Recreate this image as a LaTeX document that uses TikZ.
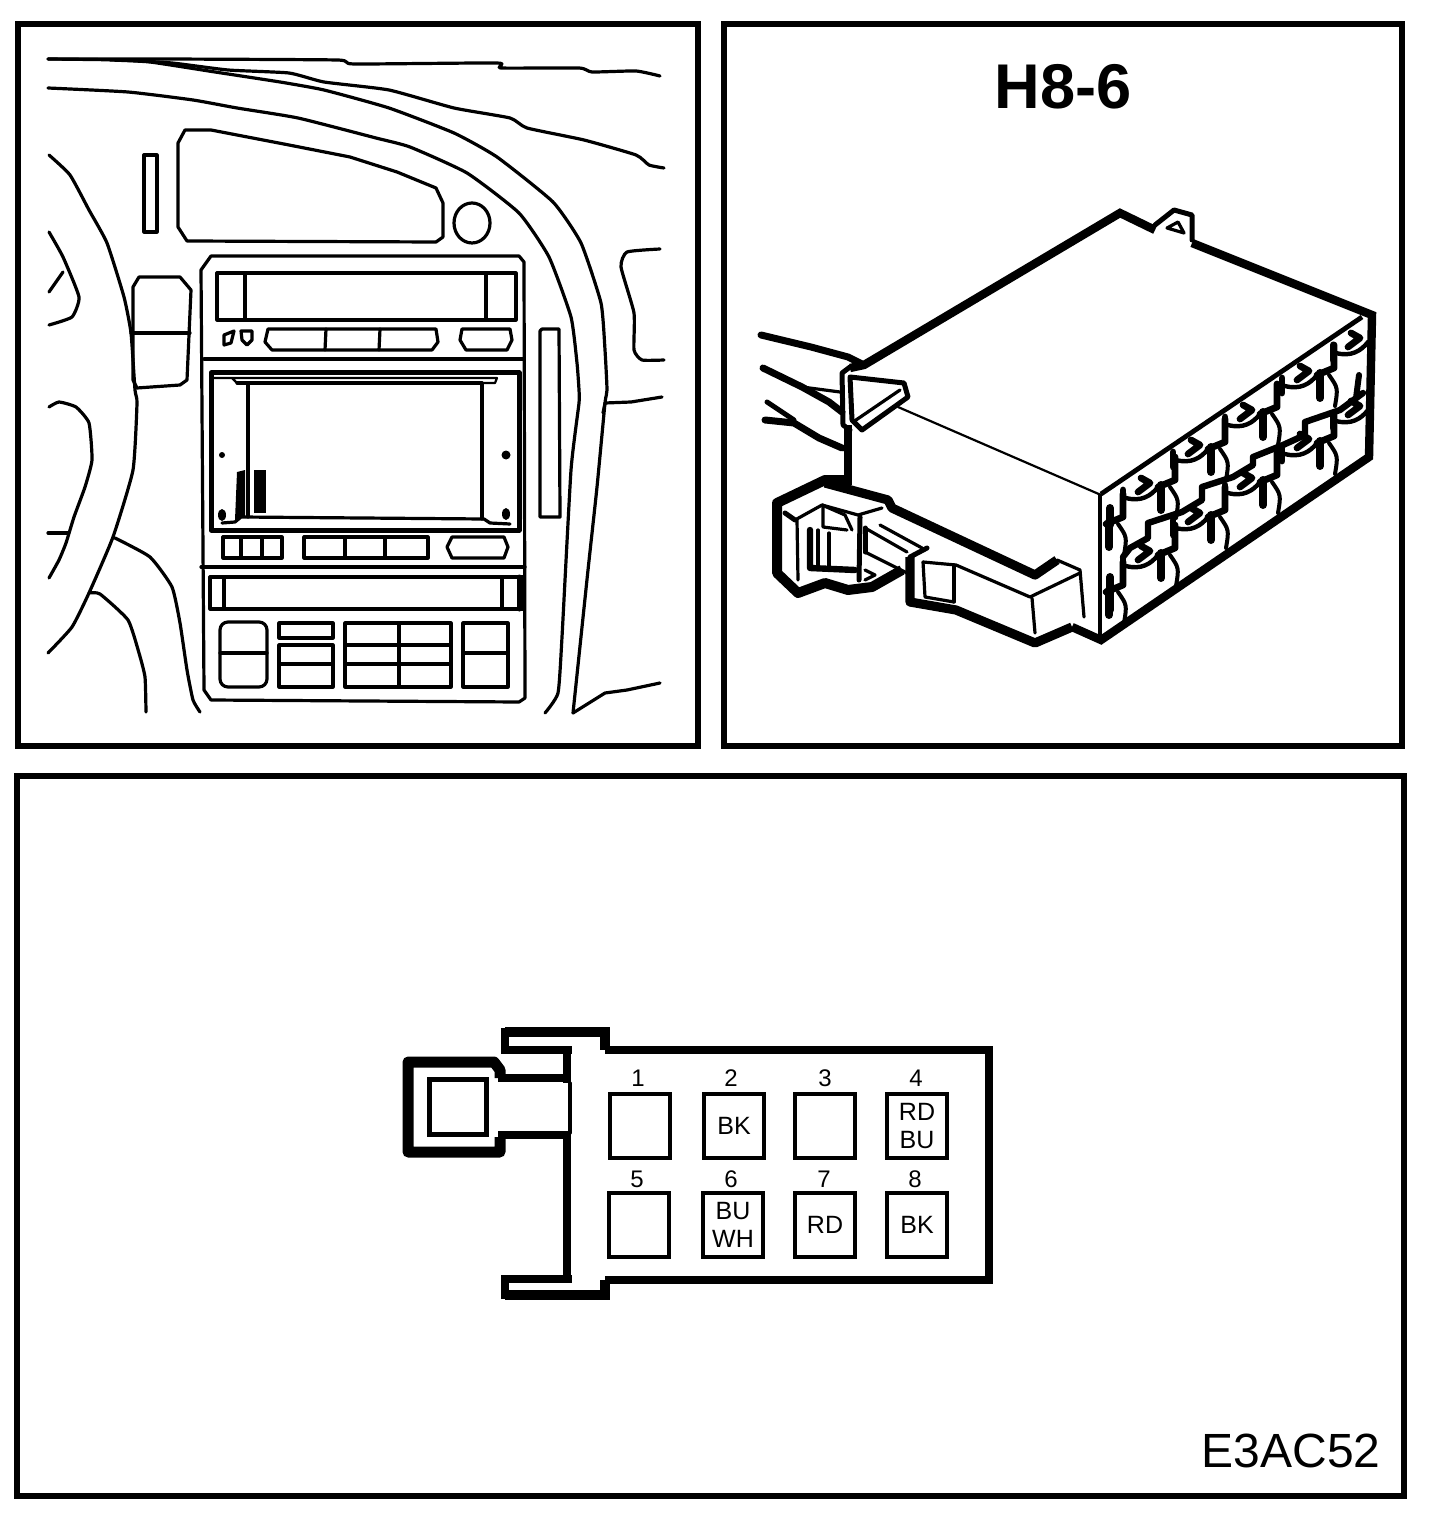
\documentclass[tikz,border=0pt]{standalone}
\usepackage{fontspec}
\setmainfont{Liberation Sans}
\usetikzlibrary{positioning,calc}

\tikzset{
    panel/.style={line width=3pt, line join=miter},
    sketch/.style={line width=1.6pt, line join=round, line cap=round},
    fine/.style={line width=1.1pt, line join=round, line cap=round},
    heavy/.style={line width=2.5pt, line join=round, line cap=round},
    wall/.style={line width=4.2pt, line join=miter},
    pinbox/.style={draw, line width=1.7pt, minimum width=30pt, minimum height=32pt, inner sep=0pt, align=center, font=\fontsize{12.5}{14}\selectfont},
    pinnum/.style={inner sep=0pt, font=\fontsize{12}{12}\selectfont},
    hookmark/.pic={
        \draw[line width=3.4pt, line cap=round] (0,0) -- (0,15);
        \draw[line width=2.2pt, line cap=round] (3,8) .. controls (18,12) and (28,6) .. (35,-3);
        \draw[line width=3.4pt, line cap=round, line join=round] (18,-12) -- (27,-7) -- (15,2);
    },
    pinmark/.pic={
        \draw[line width=3.4pt, line cap=round, line join=round] (35,-3) -- (52,-10) -- (52,-33);
        \draw[line width=4pt, line cap=round] (38,-5) -- (38,20);
        \draw[line width=2pt, line cap=round] (47,-3) .. controls (56,10) .. (53,28);
    }
}

\begin{document}
\begin{tikzpicture}[x=0.5pt, y=-0.5pt]
    \useasboundingbox (0,0) rectangle (1440,1518);

    % panels
    \draw[panel] (18,24) rectangle (698,746);
    \draw[panel] (724,24) rectangle (1402,746);
    \draw[panel] (17,776) rectangle (1404,1496);

    % dashboard lines
    \draw[sketch] plot[smooth, tension=0.3] coordinates {(48,59) (163,59) (337,60) (354,64) (497,63) (501,68) (579,68) (592,72) (636,71) (660,76)};
    \draw[sketch] plot[smooth, tension=0.3] coordinates {(48,59) (120,60) (172,63) (228,70) (289,73) (324,82) (389,90) (454,108) (510,118) (527,128) (584,140) (636,155) (649,165) (664,168)};
    \draw[sketch] plot[smooth, tension=0.3] coordinates {(110,60) (150,62) (215,72) (280,82) (324,90) (389,108) (454,133) (497,157) (553,202) (581,243) (601,303) (605,350) (607,390) (605,403) (597,487) (588,570) (573,713)};
    \draw[sketch] plot[smooth, tension=0.3] coordinates {(48,88) (128,92) (193,100) (237,108) (298,118) (376,138) (410,147) (467,173) (519,213) (549,257) (571,317) (577,363) (579,390) (579,403) (571,470) (562,637) (558,693) (545,713)};
    \draw[sketch] (603,413) -- (605,403) -- (631,402) -- (662,397);
    \draw[sketch] (573,713) -- (605,693) -- (627,690) -- (660,683);

    % glove box, slot and knob
    \draw[sketch] (185,130) -- (211,130) -- (237,135) -- (289,145) -- (350,157) -- (397,172) -- (436,188) -- (443,203) -- (443,237) -- (436,242) -- (187,241) -- (178,227) -- (178,143) -- cycle;
    \draw[sketch] (144,155) rectangle (157,232);
    \draw[sketch] (472,223) ellipse (18 and 20);

    % left side
    \draw[sketch] plot[smooth, tension=0.3] coordinates {(49,155) (70,175) (89,210) (107,243) (124,297) (131,333) (135,390) (137,403) (133,470) (113,537) (89,593) (72,627) (48,653)};
    \draw[sketch] plot[smooth, tension=0.3] coordinates {(49,232) (63,257) (79,297) (72,317) (49,325)};
    \draw[sketch] (63,272) -- (49,292);
    \draw[sketch] (139,277) -- (180,277) -- (191,290) -- (187,380) -- (180,385) -- (137,388) -- (133,380) -- (133,287) -- cycle;
    \draw[sketch] (131,333) -- (190,333);
    \draw[sketch] plot[smooth, tension=0.3] coordinates {(49,407) (59,402) (76,407) (89,423) (92,460) (85,487) (74,517) (66,543) (59,560) (49,578)};
    \draw[sketch] (48,533) -- (68,533);
    \draw[sketch] plot[smooth, tension=0.3] coordinates {(115,538) (150,557) (172,587) (180,623) (187,670) (193,700) (200,712)};
    \draw[sketch] plot[smooth, tension=0.3] coordinates {(89,593) (100,594) (128,620) (139,653) (145,677) (146,712)};

    % right side
    \draw[sketch] plot[smooth, tension=0.3] coordinates {(660,249) (627,252) (621,267) (634,313) (634,350) (642,360) (664,360)};
    \draw[sketch] (540,517) -- (540,331) -- (542,329) -- (559,329) -- (560,517) -- cycle;

    % console outline
    \draw[sketch] (211,256) -- (519,256) -- (524,262) -- (525,698) -- (519,702) -- (211,700) -- (204,690) -- (201,270) -- cycle;
    \draw[sketch] (204,359) -- (523,359);
    \draw[sketch] (201,567) -- (525,567);

    % radio
    \draw[sketch] (217,273) rectangle (516,320);
    \draw[sketch] (245,273) -- (245,320);
    \draw[sketch] (486,273) -- (486,320);
    \draw[sketch] (224,335) -- (234,331) -- (231,343) -- (224,345) -- cycle;
    \draw[sketch] (241,331) -- (252,331) -- (252,340) -- (247,345) -- (242,340) -- cycle;
    \draw[sketch] (268,329) -- (436,329) -- (438,342) -- (432,350) -- (272,350) -- (265,342) -- cycle;
    \draw[sketch] (326,329) -- (325,350);
    \draw[sketch] (380,329) -- (379,350);
    \draw[sketch] (462,329) -- (510,329) -- (512,340) -- (507,350) -- (466,350) -- (460,340) -- cycle;

    % screen
    \draw[heavy] (211,373) rectangle (519,530);
    \draw[fine] (214,378) -- (497,378) -- (495,383) -- (237,383) -- (232,378);
    \draw[sketch] (237,383) -- (482,383);
    \draw[sketch] (248,383) -- (248,517);
    \draw[sketch] (482,383) -- (482,519);
    \draw[sketch] (222,523) -- (235,522) -- (241,517) -- (484,519) -- (490,523) -- (510,524);
    \fill (222,455) circle (3);
    \fill (506,455) circle (4.5);
    \fill (222,515) ellipse (4 and 6);
    \fill (506,514) ellipse (4 and 6);
    \fill (235,520) -- (237,472) -- (245,470) -- (245,517) -- cycle;
    \fill (254,470) -- (266,470) -- (266,513) -- (254,513) -- cycle;

    % button row under the screen
    \draw[sketch] (223,537) rectangle (282,558);
    \draw[sketch] (241,537) -- (241,558);
    \draw[sketch] (262,537) -- (262,558);
    \draw[sketch] (304,537) rectangle (428,558);
    \draw[sketch] (345,537) -- (345,558);
    \draw[sketch] (385,537) -- (385,558);
    \draw[sketch] (452,537) -- (504,537) -- (508,547) -- (504,558) -- (452,558) -- (447,547) -- cycle;

    % climate panel
    \draw[sketch] (210,577) rectangle (523,609);
    \draw[sketch] (224,577) -- (224,609);
    \draw[sketch] (502,577) -- (502,609);
    \draw[heavy] (519,577) -- (519,609);
    \draw[sketch, rounded corners=4pt] (220,622) rectangle (267,687);
    \draw[sketch] (220,653) -- (267,653);
    \draw[sketch] (279,623) rectangle (333,638);
    \draw[sketch] (279,645) rectangle (333,687);
    \draw[sketch] (279,664) -- (333,664);
    \draw[sketch] (345,623) rectangle (451,687);
    \draw[sketch] (399,623) -- (399,687);
    \draw[sketch] (345,645) -- (451,645);
    \draw[sketch] (345,664) -- (451,664);
    \draw[sketch] (463,623) rectangle (508,687);
    \draw[sketch] (463,653) -- (508,653);

    % connector title
    \node[inner sep=0pt, font=\bfseries\fontsize{31.6}{32}\selectfont] (title) at (1063,87) {H8-6};

    % connector body
    \draw[wall] (850,368) -- (864,365) -- (1120,213) -- (1155,230);
    \draw[wall] (1192,243) -- (1372,315) -- (1369,457) -- (1101,640) -- (1072,627);
    \draw[heavy] (1155,225) -- (1174,210) -- (1192,215) -- (1192,240);
    \draw[sketch] (1167,228) -- (1178,222) -- (1184,233) -- cycle;
    \draw[fine] (898,407) -- (1101,495);
    \draw[sketch] (1100,495) -- (1100,640);
    \draw[line width=2.4pt] (1101,494) -- (1362,317);

    % wires
    \draw[heavy, line width=3.5pt] (761,335) -- (811,347) -- (848,357) -- (864,365);
    \draw[heavy, line width=3.5pt] (763,368) -- (802,387) -- (829,402) -- (842,412);
    \draw[sketch] (802,387) -- (840,392);
    \draw[heavy] (767,402) -- (794,420);
    \draw[heavy, line width=3.5pt] (765,420) -- (794,423) -- (819,438) -- (842,448);

    % flap
    \draw[heavy] (850,367) -- (842,373) -- (843,425) -- (850,430);
    \draw[wall] (848,425) -- (848,485);
    \draw[heavy] (850,377) -- (904,383) -- (908,397) -- (862,430) -- (852,420) -- cycle;
    \draw[sketch] (856,420) -- (900,390);

    % clip
    \draw[line width=5pt, line join=round] (848,480) -- (825,480) -- (777,503) -- (777,573) -- (798,593) -- (825,583) -- (848,590) -- (872,587) -- (902,570);
    \draw[line width=4.6pt, line join=round] (825,483) -- (888,500) -- (892,508) -- (1035,575) -- (1057,560);
    \draw[sketch] (1057,560) -- (1080,570) -- (1084,617);
    \draw[line width=4.6pt, line join=round] (910,557) -- (910,602) -- (956,610) -- (1035,643) -- (1072,627);
    \draw[heavy] (910,557) -- (927,548);
    \draw[sketch] (865,552) -- (907,573);
    \draw[sketch] (880,525) -- (922,548);
    \draw[sketch] (865,528) -- (907,552);
    \draw[sketch] (923,562) -- (956,565) -- (1030,597) -- (1080,573);
    \draw[sketch] (954,565) -- (954,602);
    \draw[sketch] (923,562) -- (925,597) -- (954,602);
    \draw[sketch] (1032,598) -- (1035,633);
    \draw[sketch] (797,520) -- (798,580);
    \draw[heavy] (785,513) -- (795,520);
    \draw[sketch] (795,520) -- (822,505) -- (858,515) -- (882,508);
    \draw[sketch] (822,505) -- (845,515) -- (852,530);
    \draw[sketch] (823,505) -- (823,527) -- (847,530);
    \draw[heavy, line width=3.2pt] (810,530) -- (810,568) -- (855,570);
    \draw[sketch] (818,530) -- (818,567);
    \draw[sketch] (829,533) -- (829,567);
    \draw[heavy] (860,517) -- (859,580);
    \draw[heavy] (865,528) -- (865,552);
    \draw[sketch] (865,570) -- (875,575) -- (865,580);

    % terminal face
    \draw[line width=3.2pt, line join=round, line cap=round] (1363,393) -- (1340,410) -- (1305,422) -- (1305,435) -- (1283,445) -- (1253,457) -- (1253,465) -- (1233,477) -- (1202,487) -- (1202,500) -- (1182,512) -- (1148,523) -- (1148,538) -- (1130,548) -- (1123,557);
    \draw[heavy, line width=3pt] (1359,375) -- (1356,398);
    \foreach \px/\py in {1123/490,1173/452,1225/417,1282/378,1333/345,1123/558,1173/520,1225/485,1282/446,1333/413} {
        \pic at (\px,\py) {hookmark};
    }
    \foreach \px/\py in {1071/527,1123/490,1173/452,1225/417,1282/378,1071/595,1123/558,1173/520,1225/485,1282/446} {
        \pic at (\px,\py) {pinmark};
    }
    \draw[line width=4pt, line cap=round] (1110,508) -- (1110,525);
    \draw[line width=4pt, line cap=round] (1110,577) -- (1110,610);

    % pin view
    \draw[wall] (605,1050) -- (989,1050) -- (989,1280) -- (605,1280);
    \draw[wall, line width=5pt] (505,1032) -- (605,1032) -- (605,1050);
    \draw[wall] (505,1028) -- (505,1050) -- (572,1050);
    \draw[wall, line width=5pt] (505,1295) -- (605,1295) -- (605,1280);
    \draw[wall] (505,1299) -- (505,1279) -- (572,1279);
    \draw[wall] (567,1050) -- (567,1083);
    \draw[wall] (567,1133) -- (567,1280);
    \draw[sketch] (570,1083) -- (570,1133);

    % latch
    \draw[line width=5.5pt, line join=round] (500,1078) -- (500,1070) -- (494,1062) -- (408,1062) -- (408,1152) -- (500,1152) -- (500,1137);
    \draw[wall] (498,1078) -- (570,1078);
    \draw[wall] (498,1135) -- (570,1135);
    \draw[line width=2.5pt] (429,1079) rectangle (486,1134);

    % terminals
    \node[pinbox] (term1) at (640,1126) {};
    \node[pinbox] (term2) at (734,1126) {BK};
    \node[pinbox] (term3) at (825,1126) {};
    \node[pinbox] (term4) at (917,1126) {RD\\BU};
    \node[pinbox] (term5) at (639,1225) {};
    \node[pinbox] (term6) at (733,1225) {BU\\WH};
    \node[pinbox] (term7) at (825,1225) {RD};
    \node[pinbox] (term8) at (917,1225) {BK};
    \node[pinnum] (num1) at (638,1078) {1};
    \node[pinnum] (num2) at (731,1078) {2};
    \node[pinnum] (num3) at (825,1078) {3};
    \node[pinnum] (num4) at (916,1078) {4};
    \node[pinnum] (num5) at (637,1179) {5};
    \node[pinnum] (num6) at (731,1179) {6};
    \node[pinnum] (num7) at (824,1179) {7};
    \node[pinnum] (num8) at (915,1179) {8};

    % drawing code
    \node[anchor=east, inner sep=0pt, font=\fontsize{24}{24}\selectfont] (code) at (1381,1451) {E3AC52};
\end{tikzpicture}
\end{document}
